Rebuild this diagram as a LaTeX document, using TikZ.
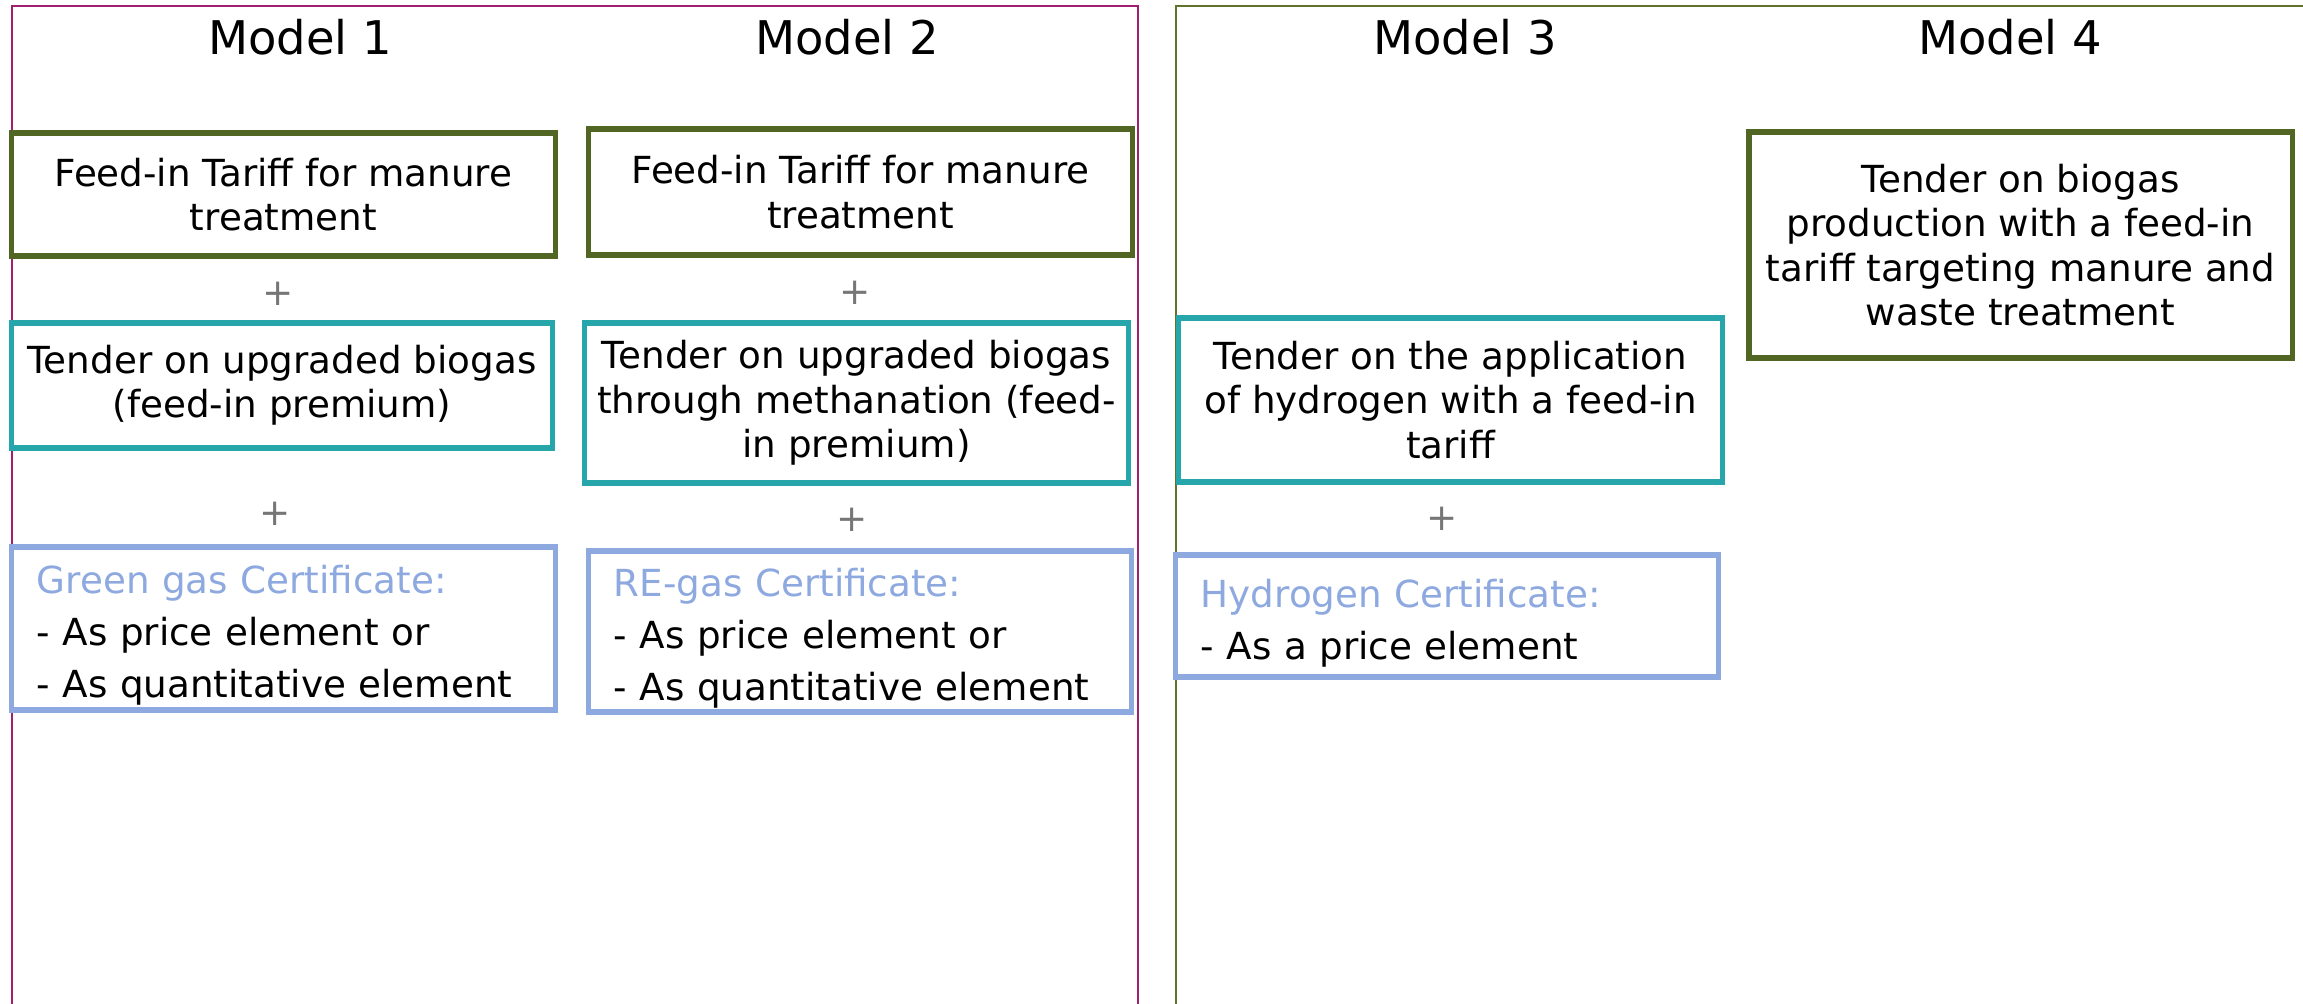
\documentclass[tikz,border=0pt]{standalone}
\usepackage{fontspec}
\setmainfont{DejaVu Sans}
\definecolor{boxgreen}{RGB}{82,102,36}
\definecolor{boxteal}{RGB}{38,166,170}
\definecolor{boxblue}{RGB}{142,169,224}
\definecolor{framemag}{RGB}{160,32,110}
\definecolor{framegreen}{RGB}{95,115,45}
\definecolor{plusgrey}{RGB}{118,118,118}
\tikzset{
  bodyfont/.style={font=\fontsize{10.6pt}{12.6pt}\selectfont},
  titlefont/.style={font=\fontsize{13.2pt}{15pt}\selectfont},
  basebox/.style={draw, line width=1.5pt, fill=white, inner sep=0pt, bodyfont},
  greenbox/.style={basebox, draw=boxgreen, align=center},
  tealbox/.style={basebox, draw=boxteal, align=center},
  certbox/.style={basebox, draw=boxblue, align=left, inner xsep=0.25cm,
    font=\fontsize{10.6pt}{14.8pt}\selectfont},
  plussign/.style={text=plusgrey, bodyfont, inner sep=0pt},
  modeltitle/.style={titlefont, inner sep=0pt},
}
\newcommand{\certhead}[1]{\rule{0pt}{0.42cm}\textcolor{boxblue}{#1}}
\begin{document}
\begin{tikzpicture}[x=0.01cm,y=-0.01cm]
\useasboundingbox (0,0) rectangle (2303,1004);
\begin{scope}
\clip (0,0) rectangle (2303,1004);
\draw[framemag, line width=0.7pt] (12,1100) -- (12,6) -- (1138,6) -- (1138,1100);
\draw[framegreen, line width=0.7pt] (1176,1100) -- (1176,6) -- (2400,6);
\end{scope}

\node[modeltitle] (t1) at (300,37) {Model 1};
\node[modeltitle] (t2) at (847,37) {Model 2};
\node[modeltitle] (t3) at (1465,37) {Model 3};
\node[modeltitle] (t4) at (2010,37) {Model 4};

% Model 1
\node[greenbox, minimum width=5.43cm, minimum height=1.23cm] (a1) at (283.5,194.5)
  {Feed-in Tariff for manure\\treatment};
\node[plussign] (p1a) at (278,294) {+};
\node[tealbox, minimum width=5.40cm, minimum height=1.25cm] (b1) at (282,385.5)
  {Tender on upgraded biogas\\(feed-in premium)};
\node[plussign] (p1b) at (275,514) {+};
\node[certbox, text width=4.93cm, minimum height=1.63cm] (c1) at (283.5,628.5)
  {\certhead{Green gas Certificate:}\\- As price element or\\- As quantitative element};

% Model 2
\node[greenbox, minimum width=5.43cm, minimum height=1.26cm] (a2) at (860.5,192)
  {Feed-in Tariff for manure\\treatment};
\node[plussign] (p2a) at (855,293) {+};
\node[tealbox, minimum width=5.43cm, minimum height=1.60cm] (b2) at (856.5,403)
  {Tender on upgraded biogas\\through methanation (feed-\\in premium)};
\node[plussign] (p2b) at (852,520) {+};
\node[certbox, text width=4.92cm, minimum height=1.61cm] (c2) at (860,631.5)
  {\certhead{RE-gas Certificate:}\\- As price element or\\- As quantitative element};

% Model 3
\node[tealbox, minimum width=5.43cm, minimum height=1.64cm] (b3) at (1450.5,400)
  {Tender on the application\\of hydrogen with a feed-in\\tariff};
\node[plussign] (p3) at (1442,519) {+};
\node[certbox, text width=4.92cm, minimum height=1.22cm] (c3) at (1447,616)
  {\certhead{Hydrogen Certificate:}\\- As a price element};

% Model 4
\node[greenbox, minimum width=5.43cm, minimum height=2.26cm] (a4) at (2020.5,245)
  {Tender on biogas\\production with a feed-in\\tariff targeting manure and\\waste treatment};
\end{tikzpicture}
\end{document}
